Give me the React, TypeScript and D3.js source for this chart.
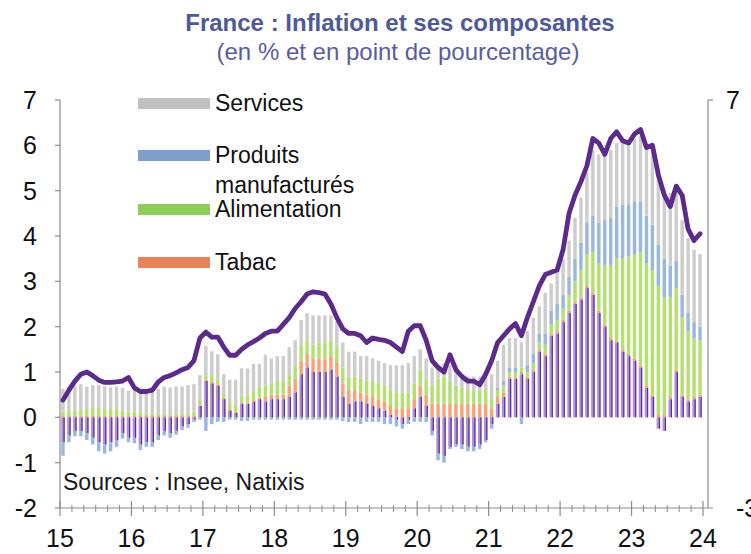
import React from 'react';
import * as d3 from 'd3';

// Monthly data, Jan 2015 -> Dec 2023 (contributions in percentage points)
const energie = [
  -0.55, -0.4, -0.3, -0.3, -0.35, -0.45, -0.55, -0.6, -0.55, -0.5, -0.35, -0.45,
  -0.45, -0.6, -0.55, -0.55, -0.4, -0.3, -0.35, -0.3, -0.2, -0.15, -0.05, 0.25,
  0.8, 0.75, 0.7, 0.4, 0.15, 0.1, 0.3, 0.3, 0.35, 0.4, 0.35, 0.4,
  0.4, 0.4, 0.45, 0.55, 0.95, 1.1, 1.0, 1.0, 1.0, 1.05, 0.9, 0.45,
  0.3, 0.35, 0.35, 0.3, 0.25, 0.2, 0.15, 0.05, -0.05, -0.15, -0.05, 0.2,
  0.45, 0.25, -0.3, -0.8, -0.85, -0.65, -0.6, -0.6, -0.65, -0.65, -0.6, -0.5,
  -0.15, 0.3, 0.45, 0.85, 0.85, 0.95, 0.85, 1.0, 1.45, 1.35, 1.8, 1.85,
  2.1, 2.3, 2.5, 2.6, 2.85, 2.7, 2.3, 2.0, 1.7, 1.65, 1.45, 1.35,
  1.25, 1.1, 0.65, 0.45, -0.25, -0.3, 0.4, 1.0, 0.45, 0.35, 0.4, 0.45,
];
const tabac = [
  0.03, 0.03, 0.03, 0.03, 0.03, 0.03, 0.03, 0.03, 0.03, 0.03, 0.03, 0.03,
  0.03, 0.03, 0.03, 0.03, 0.03, 0.03, 0.03, 0.03, 0.03, 0.03, 0.03, 0.03,
  0.03, 0.03, 0.03, 0.03, 0.03, 0.03, 0.03, 0.03, 0.03, 0.03, 0.1, 0.1,
  0.1, 0.1, 0.25, 0.3, 0.3, 0.3, 0.3, 0.3, 0.3, 0.3, 0.3, 0.3,
  0.3, 0.25, 0.2, 0.2, 0.2, 0.2, 0.2, 0.2, 0.2, 0.2, 0.2, 0.2,
  0.25, 0.25, 0.3, 0.3, 0.3, 0.3, 0.3, 0.3, 0.3, 0.3, 0.3, 0.3,
  0.2, 0.15, 0.1, 0.05, 0.05, 0.05, 0.05, 0.05, 0.05, 0.05, 0.05, 0.05,
  0.05, 0.05, 0.05, 0.05, 0.05, 0.05, 0.05, 0.05, 0.05, 0.05, 0.05, 0.05,
  0.05, 0.05, 0.05, 0.05, 0.05, 0.05, 0.05, 0.05, 0.05, 0.05, 0.05, 0.05,
];
const alimentation = [
  0.1, 0.12, 0.12, 0.15, 0.15, 0.18, 0.18, 0.15, 0.15, 0.15, 0.12, 0.1,
  0.1, 0.08, 0.05, 0.05, 0.05, 0.05, 0.03, 0.05, 0.05, 0.08, 0.1, 0.1,
  0.1, 0.15, 0.1, 0.1, 0.15, 0.15, 0.15, 0.15, 0.2, 0.25, 0.25, 0.25,
  0.3, 0.3, 0.25, 0.3, 0.35, 0.3, 0.3, 0.35, 0.35, 0.35, 0.35, 0.35,
  0.3, 0.3, 0.3, 0.3, 0.35, 0.35, 0.35, 0.35, 0.35, 0.35, 0.35, 0.35,
  0.35, 0.35, 0.4, 0.55, 0.6, 0.5, 0.4, 0.35, 0.3, 0.3, 0.3, 0.3,
  0.2, 0.15, 0.15, 0.1, 0.1, 0.1, 0.1, 0.15, 0.15, 0.2, 0.2, 0.25,
  0.25, 0.35, 0.45, 0.6, 0.7, 0.9, 1.05, 1.3, 1.6, 1.8, 2.0, 2.15,
  2.3, 2.5, 2.7, 2.75, 2.85, 2.6, 2.2, 1.8, 1.7, 1.5, 1.3, 1.2,
];
const manufactures = [
  -0.3, -0.15, -0.12, -0.12, -0.15, -0.15, -0.2, -0.2, -0.2, -0.15, -0.12, -0.1,
  -0.12, -0.12, -0.1, -0.1, -0.1, -0.1, -0.1, -0.08, -0.08, -0.08, -0.05, -0.05,
  -0.3, -0.15, -0.1, -0.1, -0.05, -0.05, -0.08, -0.08, -0.05, -0.05, -0.05, -0.05,
  -0.05, -0.05, -0.05, -0.05, -0.05, -0.05, -0.05, -0.05, -0.05, -0.05, -0.05, -0.08,
  -0.1, -0.1, -0.15, -0.1, -0.1, -0.1, -0.15, -0.15, -0.15, -0.1, -0.1, -0.1,
  -0.1, -0.1, -0.1, -0.15, -0.15, -0.05, -0.05, -0.1, -0.1, -0.1, -0.1, -0.05,
  -0.1, 0.05, 0.1, 0.1, 0.1, -0.15, 0.15, 0.2, 0.2, 0.25, 0.3, 0.35,
  0.3, 0.4, 0.5, 0.6, 0.7, 0.8, 0.9, 1.0, 1.05, 1.15, 1.2, 1.15,
  1.15, 1.1, 1.05, 1.0, 0.9, 0.85, 0.7, 0.6, 0.5, 0.4, 0.35, 0.3,
];
const services = [
  0.5, 0.5, 0.55, 0.55, 0.5, 0.5, 0.5, 0.5, 0.48, 0.5, 0.5, 0.45,
  0.5, 0.5, 0.55, 0.55, 0.55, 0.6, 0.6, 0.6, 0.6, 0.6, 0.6, 0.55,
  0.65, 0.53, 0.56, 0.42, 0.5, 0.55, 0.6, 0.6, 0.6, 0.5, 0.68, 0.55,
  0.55, 0.55, 0.6, 0.55, 0.55, 0.6, 0.65, 0.6, 0.6, 0.55, 0.55, 0.55,
  0.55, 0.55, 0.5, 0.55, 0.5, 0.5, 0.5, 0.55, 0.6, 0.6, 0.65, 0.6,
  0.45, 0.45, 0.4, 0.3, 0.3, 0.35, 0.35, 0.3, 0.3, 0.3, 0.3, 0.3,
  0.55, 0.6, 0.8, 0.65, 0.65, 0.55, 0.75, 0.8, 0.6, 0.9, 0.6, 0.7,
  0.8, 0.8, 0.9, 1.0, 1.1, 1.45, 1.5, 1.4, 1.5, 1.4, 1.4, 1.3,
  1.4, 1.45, 1.5, 1.6, 1.55, 1.5, 1.6, 1.6, 1.65, 1.65, 1.6, 1.6,
];
const inflation = [
  0.38, 0.6, 0.8, 0.95, 1.0, 0.92, 0.82, 0.77, 0.77, 0.78, 0.8, 0.88,
  0.65, 0.57, 0.57, 0.6, 0.78, 0.88, 0.92, 0.98, 1.05, 1.1, 1.25, 1.75,
  1.88, 1.77, 1.77, 1.55, 1.37, 1.37, 1.5, 1.6, 1.67, 1.75, 1.85, 1.9,
  1.9, 2.05, 2.2, 2.4, 2.55, 2.72, 2.77, 2.75, 2.72, 2.5, 2.2, 1.95,
  1.85, 1.85, 1.8, 1.65, 1.75, 1.72, 1.7, 1.65, 1.55, 1.45, 1.9, 2.02,
  2.02, 1.7, 1.25, 1.1, 1.0, 1.38, 1.05, 0.9, 0.8, 0.8, 0.72, 0.95,
  1.25, 1.65, 1.8, 1.95, 2.07, 1.8, 2.2, 2.55, 2.9, 3.15, 3.2, 3.25,
  3.7, 4.5, 4.9, 5.2, 5.55, 6.15, 6.05, 5.8, 6.15, 6.3, 6.1, 6.05,
  6.25, 6.35, 5.95, 6.0, 5.35, 4.9, 4.65, 5.1, 4.9, 4.15, 3.9, 4.05,
];

const yearLabels = ['15', '16', '17', '18', '19', '20', '21', '22', '23', '24'];
const yTicks = [7, 6, 5, 4, 3, 2, 1, 0, -1, -2];
const seriesKeys = ['energie', 'tabac', 'alimentation', 'manufactures', 'services'];
const seriesColors: Record<string, string> = {
  energie: '#b08de0',
  tabac: '#f5a47a',
  alimentation: '#b3e070',
  manufactures: '#9ab8de',
  services: '#cdcdcd',
};
const legendItems = [
  { label: ['Services'], color: '#c0c0c0' },
  { label: ['Produits', 'manufacturés'], color: '#7d9fcc' },
  { label: ['Alimentation'], color: '#8fcf55' },
  { label: ['Tabac'], color: '#ec8358' },
];

const FONT = 'Liberation Sans, Arial, Helvetica, sans-serif';

export default function App() {
  const W = 751;
  const H = 554;
  const left = 60;
  const right = 703;
  const top = 100;
  const bottom = 508;
  const n = energie.length;
  const months = d3.range(n);

  const xb = d3.scaleBand<number>().domain(months).range([left, right]).paddingInner(0.42).paddingOuter(0.21);
  const xt = d3.scaleLinear().domain([0, yearLabels.length - 1]).range([left, right]);
  const y = d3.scaleLinear().domain([-2, 7]).range([bottom, top]);

  const rows = months.map((i) => ({
    energie: energie[i],
    tabac: tabac[i],
    alimentation: alimentation[i],
    manufactures: manufactures[i],
    services: services[i],
  }));
  const stacked = d3.stack<any>().keys(seriesKeys).offset(d3.stackOffsetDiverging)(rows);

  const line = d3
    .line<number>()
    .x((_, i) => (xb(i) as number) + xb.bandwidth() / 2)
    .y((d) => y(d))
    .curve(d3.curveLinear);

  const minorTicks = d3.range(0, (yearLabels.length - 1) * 6 + 1).filter((k) => k % 6 !== 0);

  return (
    <svg width={W} height={H} style={{ position: 'absolute', left: 0, top: 0, background: '#fff' }} fontFamily={FONT}>
      <rect x={0} y={0} width={W} height={H} fill="#fff" />
      {/* Title */}
      <text x={400} y={31} textAnchor="middle" fontSize={24} fontWeight="bold" fill="#4e5a98">
        France : Inflation et ses composantes
      </text>
      <text x={398} y={60} textAnchor="middle" fontSize={24} fill="#5a5d9c">
        (en % et en point de pourcentage)
      </text>

      {/* Bars */}
      {stacked.map((s) => (
        <g key={s.key}>
          {s.map((d, i) => {
            const y0 = y(d[0]);
            const y1 = y(d[1]);
            const h = Math.abs(y0 - y1);
            if (h < 0.01) return null;
            return (
              <rect
                key={i}
                x={xb(i) as number}
                y={Math.min(y0, y1)}
                width={xb.bandwidth()}
                height={h}
                fill={seriesColors[s.key as string]}
              />
            );
          })}
        </g>
      ))}
      {/* dark edge on energy bars */}
      {stacked[0].map((d, i) => {
        const y0 = y(d[0]);
        const y1 = y(d[1]);
        const h = Math.abs(y0 - y1);
        if (h < 0.01) return null;
        return (
          <rect key={'e' + i} x={(xb(i) as number) + xb.bandwidth() - 1.2} y={Math.min(y0, y1)} width={1.2} height={h} fill="#5a3585" />
        );
      })}

      {/* Axes */}
      <line x1={left} x2={left} y1={top} y2={bottom} stroke="#8c8c8c" strokeWidth={1.2} />
      <line x1={708} x2={708} y1={top} y2={bottom} stroke="#8c8c8c" strokeWidth={1.2} />
      <line x1={left} x2={713} y1={bottom} y2={bottom} stroke="#8c8c8c" strokeWidth={1.2} />
      <line x1={708} x2={713} y1={top} y2={top} stroke="#8c8c8c" strokeWidth={1.2} />
      {yTicks.map((t) => (
        <g key={t}>
          <line x1={left - 5} x2={left} y1={y(t)} y2={y(t)} stroke="#8c8c8c" strokeWidth={1.2} />
          <text x={37} y={y(t) + 9} textAnchor="end" fontSize={25} fill="#111">
            {t}
          </text>
        </g>
      ))}
      <text x={726} y={y(7) + 9} fontSize={25} fill="#111">7</text>
      <text x={736} y={bottom + 9} fontSize={25} fill="#111">-3</text>
      {yearLabels.map((lab, k) => (
        <g key={lab}>
          <line x1={xt(k)} x2={xt(k)} y1={bottom - 7} y2={bottom + 8} stroke="#8c8c8c" strokeWidth={1.2} />
          <text x={xt(k)} y={547} textAnchor="middle" fontSize={25} fill="#111">
            {lab}
          </text>
        </g>
      ))}
      {minorTicks.map((k) => (
        <line key={'m' + k} x1={xt(k / 6)} x2={xt(k / 6)} y1={bottom - 3} y2={bottom + 4} stroke="#8c8c8c" strokeWidth={1} />
      ))}

      {/* Inflation line */}
      <path d={line(inflation) as string} fill="none" stroke="#5b2a8c" strokeWidth={4.8} strokeLinejoin="round" strokeLinecap="round" />

      {/* Legend */}
      {legendItems.map((it, k) => {
        const ys = [103, 155, 209, 262][k];
        return (
          <g key={k}>
            <rect x={138} y={ys - 5} width={72} height={11} fill={it.color} />
            {it.label.map((l, j) => (
              <text key={j} x={215} y={ys + 8 + j * 30} fontSize={23} fill="#111">
                {l}
              </text>
            ))}
          </g>
        );
      })}

      <text x={63} y={490} fontSize={23} fill="#1a1a1a">
        Sources : Insee, Natixis
      </text>
    </svg>
  );
}
